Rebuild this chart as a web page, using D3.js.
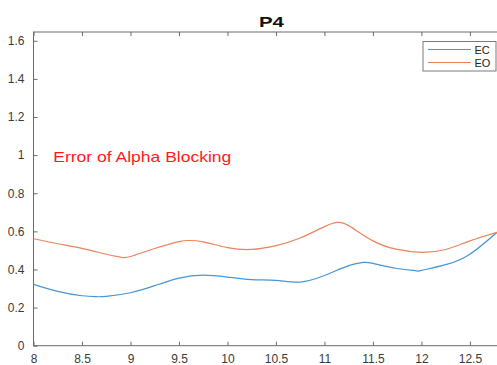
<!DOCTYPE html>
<html>
<head>
<meta charset="utf-8">
<script src="https://cdn.jsdelivr.net/npm/d3@7"></script>
<style>
  html, body { margin: 0; padding: 0; background: #fff; }
  svg { display: block; }
  text { font-family: "Liberation Sans", Arial, sans-serif; }
</style>
</head>
<body>
<svg id="chart" width="497" height="365"></svg>
<script>
// Frequency (Hz) sample points and errors for the P4 channel
const ecFreq = [8.0, 8.25, 8.5, 8.65, 8.75, 9.0, 9.25, 9.5, 9.75, 10.0, 10.25, 10.5, 10.75, 11.0, 11.25, 11.4, 11.5, 11.75, 11.95, 12.0, 12.25, 12.5, 12.78];
const ecValues = [0.322, 0.285, 0.262, 0.257, 0.259, 0.278, 0.315, 0.355, 0.370, 0.360, 0.347, 0.343, 0.334, 0.368, 0.420, 0.437, 0.432, 0.405, 0.393, 0.395, 0.425, 0.480, 0.595];
const eoFreq = [8.0, 8.25, 8.5, 8.75, 8.9, 9.0, 9.25, 9.5, 9.6, 9.75, 10.0, 10.25, 10.5, 10.75, 11.0, 11.13, 11.25, 11.5, 11.75, 12.0, 12.25, 12.5, 12.78];
const eoValues = [0.561, 0.535, 0.511, 0.480, 0.464, 0.468, 0.510, 0.546, 0.552, 0.545, 0.515, 0.505, 0.525, 0.565, 0.625, 0.647, 0.630, 0.550, 0.505, 0.490, 0.505, 0.550, 0.595];
const seriesNames = ["EC", "EO"];
const xTicks = [8, 8.5, 9, 9.5, 10, 10.5, 11, 11.5, 12, 12.5];
const yTicks = [0, 0.2, 0.4, 0.6, 0.8, 1, 1.2, 1.4, 1.6];
const titleText = "P4";
const noteText = "Error of Alpha Blocking";

const colors = ["#4796d6", "#e9845c"];
const svg = d3.select("#chart");
const plotL = 33.5, plotR = 499, plotT = 32, plotB = 345.7;

const x = d3.scaleLinear().domain([8, 12.8]).range([plotL, plotR]);
const y = d3.scaleLinear().domain([0, 1.646]).range([plotB, plotT]);

// Plot frame
svg.append("rect")
  .attr("x", plotL).attr("y", plotT)
  .attr("width", plotR - plotL).attr("height", plotB - plotT)
  .attr("fill", "#fff").attr("stroke", "#6a6a6a").attr("stroke-width", 1);

const tickLen = 4;
const axisColor = "#6a6a6a";
const labelColor = "#3a3a3a";

// X axis (bottom, inward ticks; mirrored on top)
const xAxis = d3.axisBottom(x).tickValues(xTicks).tickSizeInner(-tickLen).tickSizeOuter(0).tickPadding(9)
  .tickFormat(d3.format("~g"));
const gx = svg.append("g").attr("transform", `translate(0,${plotB})`).call(xAxis);
gx.select(".domain").remove();
gx.selectAll("line").attr("stroke", axisColor);
gx.selectAll("text").attr("fill", labelColor).attr("font-size", 12);

const gxTop = svg.append("g").attr("transform", `translate(0,${plotT})`)
  .call(d3.axisTop(x).tickValues(xTicks).tickSizeInner(-tickLen).tickSizeOuter(0).tickFormat(""));
gxTop.select(".domain").remove();
gxTop.selectAll("line").attr("stroke", axisColor);

// Y axis (left, inward ticks)
const yAxis = d3.axisLeft(y).tickValues(yTicks).tickSizeInner(-tickLen).tickSizeOuter(0).tickPadding(9)
  .tickFormat(d3.format("~g"));
const gy = svg.append("g").attr("transform", `translate(${plotL},0)`).call(yAxis);
gy.select(".domain").remove();
gy.selectAll("line").attr("stroke", axisColor);
gy.selectAll("text").attr("fill", labelColor).attr("font-size", 12);

// Series lines
const line = d3.line().x(d => x(d[0])).y(d => y(d[1])).curve(d3.curveNatural);
const series = [
  d3.zip(ecFreq, ecValues),
  d3.zip(eoFreq, eoValues)
];
series.forEach((pts, i) => {
  svg.append("path").datum(pts)
    .attr("d", line)
    .attr("fill", "none")
    .attr("stroke", colors[i])
    .attr("stroke-width", 1.2);
});

// Title
svg.append("text")
  .attr("x", 259).attr("y", 27)
  .attr("textLength", 25).attr("lengthAdjust", "spacingAndGlyphs")
  .attr("font-size", 15).attr("font-weight", "bold").attr("fill", "#111")
  .text(titleText);

// Annotation
svg.append("text")
  .attr("x", 53.3).attr("y", 162.3)
  .attr("textLength", 178).attr("lengthAdjust", "spacingAndGlyphs")
  .attr("font-size", 15).attr("fill", "#ff1a1a")
  .text(noteText);

// Legend
const lg = svg.append("g");
lg.append("rect")
  .attr("x", 423).attr("y", 41.5).attr("width", 73).attr("height", 29.5)
  .attr("fill", "#fff").attr("stroke", "#7a7a7a").attr("stroke-width", 1);
seriesNames.forEach((name, i) => {
  const yy = 49.5 + i * 13;
  lg.append("line")
    .attr("x1", 428).attr("x2", 471).attr("y1", yy).attr("y2", yy)
    .attr("stroke", colors[i]).attr("stroke-width", 1.1);
  lg.append("text")
    .attr("x", 474.5).attr("y", yy + 4)
    .attr("font-size", 11).attr("fill", "#222")
    .text(name);
});
</script>
</body>
</html>
